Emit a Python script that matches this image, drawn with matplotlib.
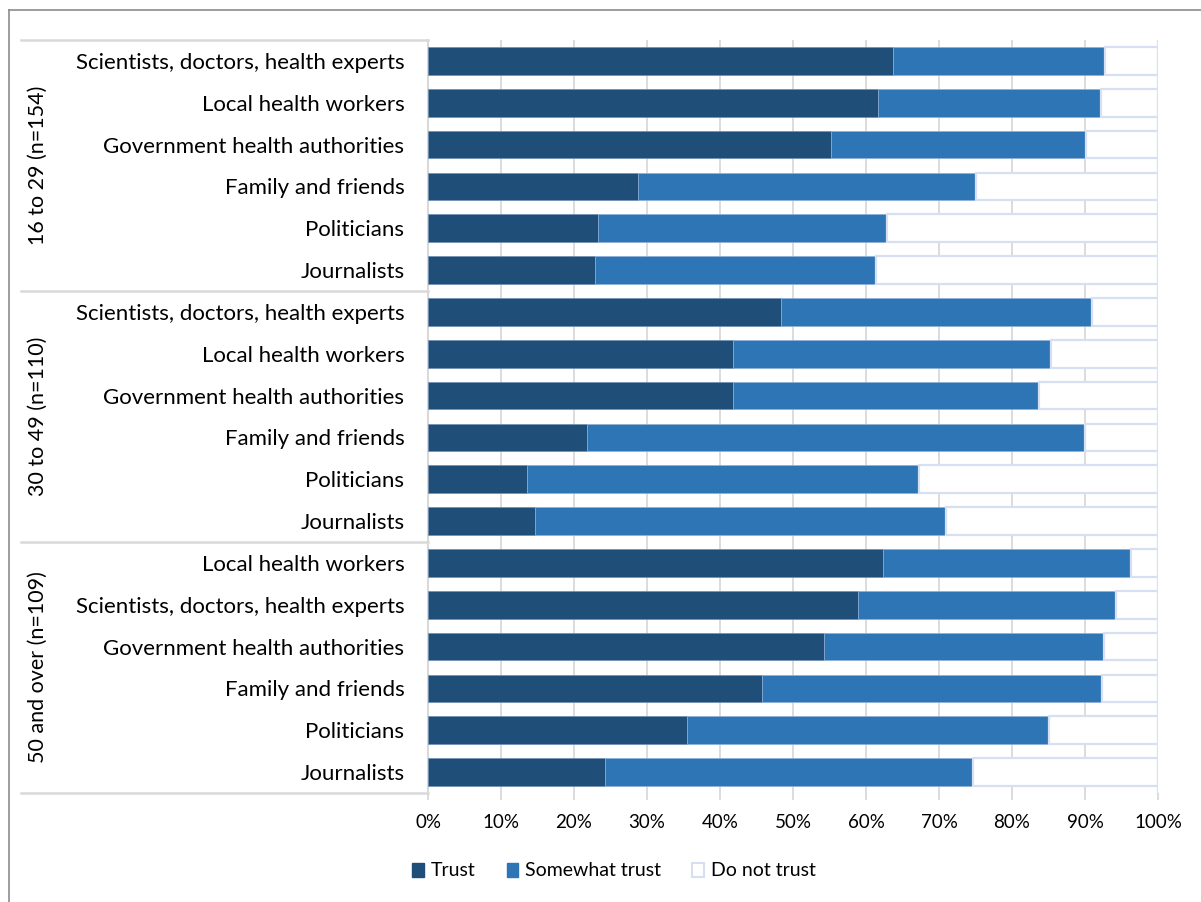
import matplotlib
matplotlib.use("Agg")
import matplotlib.pyplot as plt
import matplotlib.patches as mpatches
from matplotlib.lines import Line2D
import numpy as np

# Share of respondents (%) trusting each source, by age group
groups = ["16 to 29 (n=154)", "30 to 49 (n=110)", "50 and over (n=109)"]

sources_1629 = ["Scientists, doctors, health experts", "Local health workers",
                "Government health authorities", "Family and friends",
                "Politicians", "Journalists"]
trust_1629 = [63.7, 61.7, 55.2, 28.8, 23.3, 22.9]
somewhat_1629 = [29.1, 30.5, 35.0, 46.3, 39.6, 38.5]

sources_3049 = ["Scientists, doctors, health experts", "Local health workers",
                "Government health authorities", "Family and friends",
                "Politicians", "Journalists"]
trust_3049 = [48.3, 41.8, 41.8, 21.8, 13.6, 14.6]
somewhat_3049 = [42.6, 43.6, 41.9, 68.2, 53.6, 56.3]

sources_50 = ["Local health workers", "Scientists, doctors, health experts",
              "Government health authorities", "Family and friends",
              "Politicians", "Journalists"]
trust_50 = [62.3, 58.9, 54.2, 45.8, 35.5, 24.3]
somewhat_50 = [34.0, 35.4, 38.4, 46.5, 49.5, 50.4]

xticks = [0, 10, 20, 30, 40, 50, 60, 70, 80, 90, 100]
legend_labels = ["Trust", "Somewhat trust", "Do not trust"]

C_TRUST = "#1f4e79"
C_SOME = "#2e75b6"
C_NOT = "#ffffff"
C_NOT_EDGE = "#d6e0f2"
C_GRID = "#d9d9d9"
FONT = "Lato"

labels = sources_1629 + sources_3049 + sources_50
trust = np.array(trust_1629 + trust_3049 + trust_50)
somewhat = np.array(somewhat_1629 + somewhat_3049 + somewhat_50)
not_trust = 100 - trust - somewhat

W, H = 1201, 902
fig = plt.figure(figsize=(W / 100, H / 100), dpi=100)
plt.rcParams["font.family"] = [FONT, "DejaVu Sans"]

x0, x1 = 428, 1158
y0, y1 = 40, 793
ax = fig.add_axes([x0 / W, 1 - y1 / H, (x1 - x0) / W, (y1 - y0) / H])

y = np.arange(len(labels))
bh = 0.66
ax.barh(y, trust, height=bh, color=C_TRUST, edgecolor="#6f8fb0", linewidth=0.5, zorder=3)
ax.barh(y, somewhat, left=trust, height=bh, color=C_SOME, edgecolor="#8fb0d8",
        linewidth=0.5, zorder=3)
ax.barh(y, not_trust, left=trust + somewhat, height=bh, color=C_NOT,
        edgecolor=C_NOT_EDGE, linewidth=1.6, zorder=3)

ax.set_xlim(0, 100)
ax.set_ylim(len(labels) - 0.5, -0.5)

# vertical gridlines
for t in xticks[:-1]:
    ax.axvline(t, color=C_GRID, lw=1.3, zorder=1)
ax.axvline(100, color=C_NOT_EDGE, lw=1.6, zorder=1)

for s in ax.spines.values():
    s.set_visible(False)
ax.spines["left"].set_visible(True)
ax.spines["left"].set_color(C_GRID)
ax.spines["left"].set_linewidth(1.5)

ax.set_xticks(xticks)
ax.set_xticklabels([f"{t}%" for t in xticks], fontsize=13.5)
ax.tick_params(axis="x", length=5, width=1.3, color=C_GRID, pad=10, labelcolor="#000000")

ax.set_yticks(y)
ax.set_yticklabels(labels, fontsize=16)
ax.tick_params(axis="y", length=0, pad=17)

# group table lines and group labels on the left
tr = ax.get_yaxis_transform()
xl = (21 - x0) / (x1 - x0)
for b in [-0.5, 5.5, 11.5, 17.5]:
    ax.add_line(Line2D([xl, 0], [b, b], transform=tr, color=C_GRID, lw=1.8, clip_on=False))

xg = (38 - x0) / (x1 - x0)
for i, g in enumerate(groups):
    ax.text(xg, i * 6 + 2.5, g, transform=tr, rotation=90, ha="center", va="center",
            fontsize=15.5)

# legend
handles = [mpatches.Patch(facecolor=C_TRUST, edgecolor=C_TRUST),
           mpatches.Patch(facecolor=C_SOME, edgecolor=C_SOME),
           mpatches.Patch(facecolor=C_NOT, edgecolor=C_NOT_EDGE, linewidth=1.5)]
fig.legend(handles, legend_labels, loc="center", bbox_to_anchor=(614 / W, 1 - 871 / H),
           ncol=3, frameon=False, fontsize=14, handlelength=0.6, handleheight=0.7,
           handletextpad=0.35, columnspacing=1.6)

# outer chart border
fig.add_artist(Line2D([9 / W, 9 / W], [0, 1 - 10 / H], color="#8c8c8c", lw=1.2))
fig.add_artist(Line2D([9 / W, 1], [1 - 10 / H, 1 - 10 / H], color="#8c8c8c", lw=1.2))

fig.savefig("out.png", dpi=100, facecolor="white")
